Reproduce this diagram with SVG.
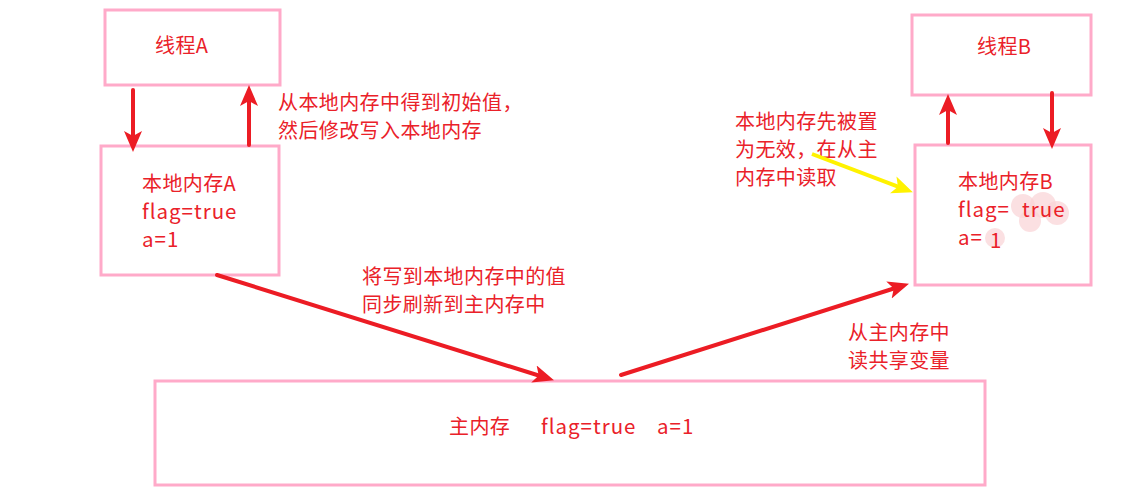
<svg xmlns="http://www.w3.org/2000/svg" width="1142" height="500" viewBox="0 0 1142 500">
<style>
.box{fill:#ffffff;stroke:#ffaac9;stroke-width:3}
.t{font-family:"Noto Sans CJK SC","Noto Sans",sans-serif;font-size:20px;fill:#ea2129}
.c{letter-spacing:0.4px}
.l{letter-spacing:1px;font-size:20.5px}
.ln{stroke:#ec1c24;stroke-width:4;fill:none;stroke-linecap:round}
.hl{fill:#f9d3d6;opacity:0.7}
</style>
<defs>
<marker id="ar" markerUnits="userSpaceOnUse" markerWidth="24" markerHeight="20" refX="10" refY="9" orient="auto">
<path d="M0,0 L21,9 L0,18 L5,9 Z" fill="#ec1c24"/>
</marker>
<marker id="ay" markerUnits="userSpaceOnUse" markerWidth="24" markerHeight="20" refX="10" refY="9" orient="auto">
<path d="M0,0 L21,9 L0,18 L5,9 Z" fill="#fff200"/>
</marker>
</defs>
<rect width="1142" height="500" fill="#ffffff"/>
<g id="threadA"><rect class="box" x="105" y="10" width="175" height="75"/><text class="t c" x="155" y="53">线程A</text></g>
<g id="localA"><rect class="box" x="101" y="146" width="178" height="129"/>
<text class="t c" x="142" y="191">本地内存A</text><text class="t l" x="142" y="219">flag=true</text><text class="t l" x="142" y="247">a=1</text></g>
<g id="threadB"><rect class="box" x="912" y="15" width="179" height="80"/><text class="t c" x="977" y="54">线程B</text></g>
<g id="localB"><rect class="box" x="915" y="145" width="176" height="140"/>
<circle class="hl" cx="1023" cy="206" r="12"/><circle class="hl" cx="1043" cy="205" r="13"/><circle class="hl" cx="1057" cy="213" r="12"/><circle class="hl" cx="1030" cy="221" r="11"/><circle class="hl" cx="995" cy="238" r="10"/>
<text class="t c" x="958" y="189">本地内存B</text><text class="t l" x="958" y="217">flag=</text><text class="t l" x="1022" y="217">true</text><text class="t l" x="958" y="245">a=</text><text class="t l" x="990" y="248">1</text></g>
<g id="main"><rect class="box" x="155" y="381" width="830" height="104"/><text class="t c" x="449" y="434">主内存</text><text class="t l" x="541" y="434">flag=true</text><text class="t l" x="657" y="434">a=1</text></g>
<g id="labels">
<text class="t c" x="278" y="110">从本地内存中得到初始值，</text><text class="t c" x="278" y="138">然后修改写入本地内存</text>
<text class="t c" x="735" y="129">本地内存先被置</text><text class="t c" x="735" y="157">为无效，在从主</text><text class="t c" x="735" y="185">内存中读取</text>
<text class="t c" x="362" y="284">将写到本地内存中的值</text><text class="t c" x="362" y="312">同步刷新到主内存中</text>
<text class="t c" x="848" y="340">从主内存中</text><text class="t c" x="848" y="368">读共享变量</text>
</g>
<g id="connectors">
<line class="ln" x1="133" y1="90" x2="133" y2="141" marker-end="url(#ar)"/>
<line class="ln" x1="249" y1="145" x2="249" y2="96" marker-end="url(#ar)"/>
<line class="ln" x1="948" y1="143" x2="948" y2="105" marker-end="url(#ar)"/>
<line class="ln" x1="1052" y1="93" x2="1052" y2="138" marker-end="url(#ar)"/>
<line class="ln" x1="217" y1="275" x2="543.5" y2="377" marker-end="url(#ar)"/>
<line class="ln" x1="621" y1="375" x2="898.5" y2="287" marker-end="url(#ar)"/>
<line x1="812" y1="154" x2="902.6" y2="188.4" stroke="#fff200" stroke-width="4" marker-end="url(#ay)"/>
</g>
</svg>
